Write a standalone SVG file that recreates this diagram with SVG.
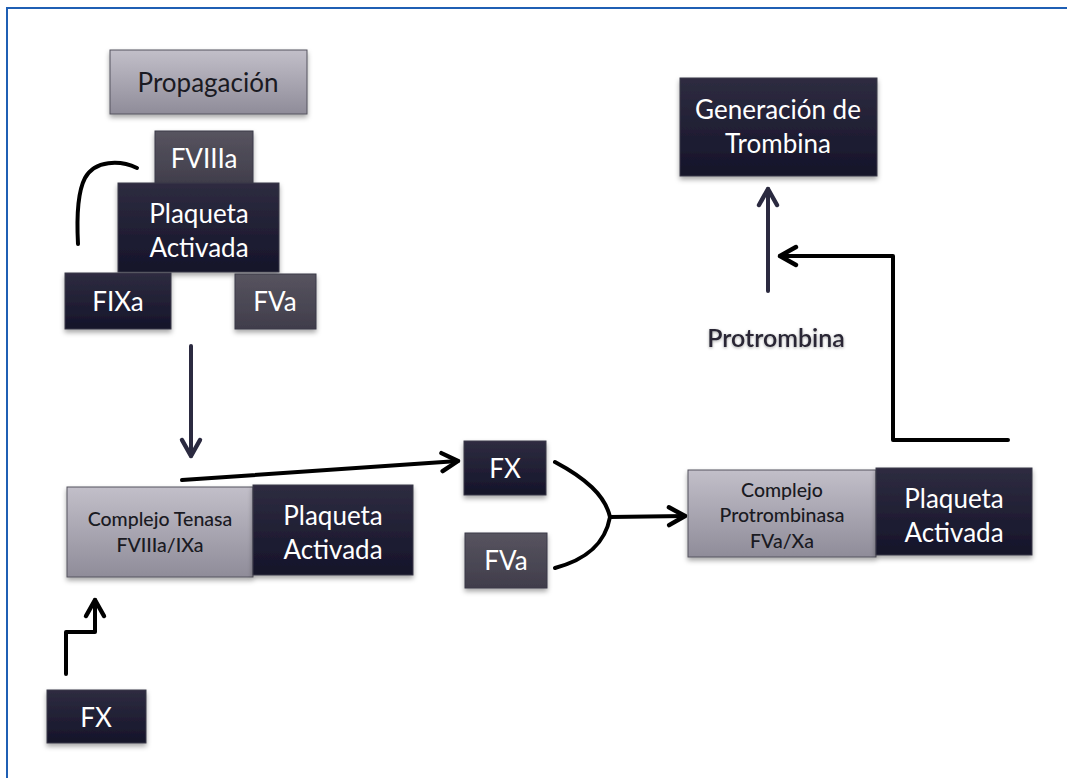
<svg xmlns="http://www.w3.org/2000/svg" width="1067" height="778" viewBox="0 0 1067 778">
<style>
  text { font-family: Lato, "Open Sans", "Liberation Sans", sans-serif; text-anchor: middle; }
  .lt { fill: #ffffff; font-size: 26px; }
  .dt { fill: #1a1a22; font-size: 26px; }
  .st { fill: #1a1a22; font-size: 19.5px; font-weight: 500; }
  .dark { fill: url(#gDark); stroke: #3a3848; stroke-width: 1; filter: url(#sh); }
  .mid { fill: url(#gMid); stroke: #3a3848; stroke-width: 1; filter: url(#sh); }
  .light { fill: url(#gLight); stroke: #55525e; stroke-width: 1; filter: url(#sh); }
  .blk { fill: none; stroke: #000; stroke-width: 4; stroke-linecap: round; stroke-linejoin: round; }
  .nav { fill: none; stroke: #2b2a40; stroke-width: 4; stroke-linecap: round; }
</style>
<defs>
  <linearGradient id="gDark" x1="0" y1="0" x2="0" y2="1">
    <stop offset="0" stop-color="#2e2c40"/>
    <stop offset="1" stop-color="#15142a"/>
  </linearGradient>
  <linearGradient id="gMid" x1="0" y1="0" x2="0" y2="1">
    <stop offset="0" stop-color="#57545f"/>
    <stop offset="1" stop-color="#403d4b"/>
  </linearGradient>
  <linearGradient id="gLight" x1="0" y1="0" x2="0" y2="1">
    <stop offset="0" stop-color="#c2bfc9"/>
    <stop offset="1" stop-color="#8f8c99"/>
  </linearGradient>
  <filter id="sh" x="-10%" y="-10%" width="120%" height="130%">
    <feDropShadow dx="0" dy="3" stdDeviation="2.5" flood-color="#000" flood-opacity="0.35"/>
  </filter>
  <filter id="tsh" x="-10%" y="-30%" width="120%" height="160%">
    <feDropShadow dx="0" dy="1" stdDeviation="1.5" flood-color="#000" flood-opacity="0.35"/>
  </filter>
  <marker id="aB" viewBox="0 0 12 12" refX="10" refY="6" markerWidth="6" markerHeight="6" markerUnits="strokeWidth" orient="auto">
    <path d="M2,1.5 L10,6 L2,10.5" fill="none" stroke="#000" stroke-width="2.2" stroke-linecap="round" stroke-linejoin="round"/>
  </marker>
  <marker id="aN" viewBox="0 0 12 12" refX="10" refY="6" markerWidth="6" markerHeight="6" markerUnits="strokeWidth" orient="auto">
    <path d="M2,1.5 L10,6 L2,10.5" fill="none" stroke="#2b2a40" stroke-width="2.2" stroke-linecap="round" stroke-linejoin="round"/>
  </marker>
</defs>
<rect width="1067" height="778" fill="#ffffff"/>
<path d="M7,778 L7,8 L1067,8" fill="none" stroke="#1f5fb4" stroke-width="2"/>

<g id="connectors">
  <path class="blk" d="M137,168 C120,160 95,160 85,178 C76,195 77,225 78,244" stroke-width="3.5"/>
  <line class="nav" x1="191" y1="346" x2="191" y2="456" marker-end="url(#aN)"/>
  <line class="blk" x1="182" y1="480" x2="458" y2="461" marker-end="url(#aB)"/>
  <path class="blk" d="M555,462 C585,478 605,495 610,517 M555,568 C585,560 605,545 610,517 M610,517 L685,516" marker-end="url(#aB)"/>
  <path class="blk" d="M1008,440 L893,440 L893,256 L780,256" marker-end="url(#aB)"/>
  <line class="nav" x1="768" y1="291" x2="768" y2="189" marker-end="url(#aN)"/>
  <path class="blk" d="M66,674 L66,632 L95,632 L95,600" marker-end="url(#aB)"/>
</g>

<g id="propagacion">
  <rect class="light" x="110" y="50" width="197" height="64"/>
  <text class="dt" x="208" y="92">Propagación</text>
</g>
<g id="fviiia">
  <rect class="mid" x="155" y="131" width="98" height="54"/>
  <text class="lt" x="204" y="168">FVIIIa</text>
</g>
<g id="plaqueta-top">
  <rect class="dark" x="118" y="183" width="161" height="89"/>
  <text class="lt" x="199" y="223">Plaqueta</text>
  <text class="lt" x="199" y="257">Activada</text>
</g>
<g id="fixa">
  <rect class="dark" x="65" y="273" width="106" height="56"/>
  <text class="lt" x="118" y="311">FIXa</text>
</g>
<g id="fva-top">
  <rect class="mid" x="235" y="274" width="81" height="55"/>
  <text class="lt" x="275" y="311">FVa</text>
</g>

<g id="tenasa">
  <rect class="light" x="67" y="487" width="186" height="90"/>
  <text class="st" x="160" y="526">Complejo Tenasa</text>
  <text class="st" x="160" y="552">FVIIIa/IXa</text>
</g>
<g id="plaqueta-tenasa">
  <rect class="dark" x="253" y="485" width="160" height="90"/>
  <text class="lt" x="333" y="525">Plaqueta</text>
  <text class="lt" x="333" y="559">Activada</text>
</g>

<g id="fx-mid">
  <rect class="dark" x="464" y="441" width="82" height="54"/>
  <text class="lt" x="505" y="478">FX</text>
</g>
<g id="fva-mid">
  <rect class="mid" x="465" y="533" width="82" height="55"/>
  <text class="lt" x="506" y="570">FVa</text>
</g>

<g id="protrombinasa">
  <rect class="light" x="688" y="470" width="188" height="87"/>
  <text class="st" x="782" y="497">Complejo</text>
  <text class="st" x="782" y="522">Protrombinasa</text>
  <text class="st" x="782" y="548">FVa/Xa</text>
</g>
<g id="plaqueta-protro">
  <rect class="dark" x="876" y="468" width="156" height="87"/>
  <text class="lt" x="954" y="508">Plaqueta</text>
  <text class="lt" x="954" y="542">Activada</text>
</g>

<g id="generacion">
  <rect class="dark" x="680" y="78" width="197" height="98"/>
  <text class="lt" x="778" y="119">Generación de</text>
  <text class="lt" x="778" y="153">Trombina</text>
</g>

<g id="protrombina">
  <text x="776" y="347" style="font-size:25px;font-weight:600;fill:#2a2835" filter="url(#tsh)">Protrombina</text>
</g>

<g id="fx-bottom">
  <rect class="dark" x="47" y="690" width="99" height="53"/>
  <text class="lt" x="96" y="727">FX</text>
</g>
</svg>
